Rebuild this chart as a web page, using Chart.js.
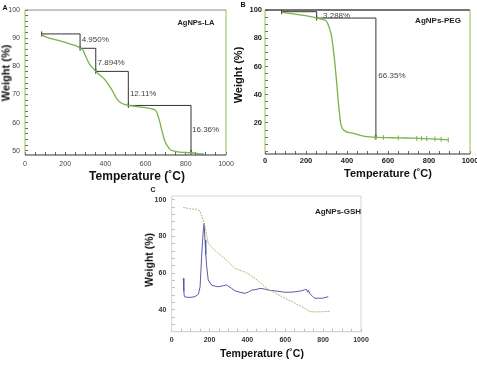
<!doctype html>
<html lang="en">
<head>
<meta charset="utf-8" />
<script src="https://cdn.jsdelivr.net/npm/chart.js@4.4.1/dist/chart.umd.min.js"></script>
<style>
  html, body { margin: 0; padding: 0; width: 477px; height: 365px; background: #fff; overflow: hidden;
    font-family: 'Liberation Sans', Arial, sans-serif; }
  canvas { position: absolute; }
  .txt { position: absolute; white-space: nowrap; transform: translate(-50%, -50%); color: #111;
    font-weight: bold; line-height: 1; }
  .rot { transform: translate(-50%, -50%) rotate(-90deg); }
</style>
</head>
<body>
<canvas id="chartA" width="237" height="183" style="left:0px;top:0px;width:237px;height:183px"></canvas>
<canvas id="chartB" width="248" height="183" style="left:229px;top:0px;width:248px;height:183px"></canvas>
<canvas id="chartC" width="240" height="182" style="left:130px;top:183px;width:240px;height:182px"></canvas>

<div class="txt" style="left:5px;top:7px;font-size:7px">A</div>
<div class="txt" style="left:243px;top:4px;font-size:7px">B</div>
<div class="txt" style="left:153px;top:189px;font-size:7px">C</div>

<div class="txt rot" style="left:5.5px;top:73px;font-size:11px">Weight (%)</div>
<div class="txt" style="left:137px;top:176px;font-size:12px">Temperature (˚C)</div>
<div class="txt rot" style="left:238px;top:75px;font-size:11px">Weight (%)</div>
<div class="txt" style="left:388px;top:173px;font-size:11px">Temperature (˚C)</div>
<div class="txt rot" style="left:149px;top:260px;font-size:10.5px">Weight (%)</div>
<div class="txt" style="left:262px;top:353px;font-size:10.5px">Temperature (˚C)</div>

<div class="txt" style="left:196px;top:23px;font-size:7.5px;color:#222">AgNPs-LA</div>
<div class="txt" style="left:438px;top:21px;font-size:8px;color:#222">AgNPs-PEG</div>
<div class="txt" style="left:338px;top:212px;font-size:8px;color:#222">AgNPs-GSH</div>

<script>
// ---- panel A: AgNPs-LA ----
const tempsA = [83, 120, 160, 191, 230, 257, 277, 290, 299, 312, 323, 343, 352, 365, 390, 406, 422, 439, 452, 464,
  480, 500, 514, 540, 570, 600, 630, 647, 656, 663, 672, 680, 690, 697, 710, 721, 745, 771, 800, 829, 860, 890];
const weightsA = [91.1, 90.0, 89.3, 88.7, 87.8, 87.2, 86.4, 85.6, 84.0, 82.0, 80.5, 79.0, 78.2, 77.3, 75.8, 74.5, 72.8,
  70.8, 69.0, 67.8, 66.9, 66.4, 66.1, 65.9, 65.6, 65.3, 64.9, 64.5, 63.6, 62.1, 59.9, 57.4, 54.8, 53.2, 51.6, 50.5,
  49.9, 49.5, 49.4, 49.3, 49.0, 48.8];
const stepTempsA = [83, 274, 352, 514, 826];
const stepWeightsA = [91.5, 86.4, 78.2, 66.1, 49.5];
const lossLabelsA = ['4.950%', '7.894%', '12.11%', '16.36%'];
const lossLabelXA = [282, 361, 522, 831];
const lossLabelYA = [89.3, 81.3, 70.1, 57.6];
const yLabelsA = [50, 60, 70, 80, 90, 100];

// ---- panel B: AgNPs-PEG ----
const tempsB = [81, 120, 171, 210, 249, 275, 293, 303, 309, 317, 325, 333, 341, 350, 358, 364, 369, 375, 382, 395,
  412, 431, 460, 496, 541, 600, 659, 720, 780, 840, 894];
const weightsB = [98.4, 97.6, 96.5, 95.6, 94.5, 93.6, 92.7, 91.3, 89.4, 85.8, 81.1, 72.5, 62, 48, 34, 26, 19.8, 16.8,
  15.2, 13.9, 13.2, 12.6, 11.4, 10.3, 9.8, 9.6, 9.4, 9.2, 8.9, 8.5, 8.0];
const markTempsB = [537, 577, 650, 740, 764, 789, 829, 859, 894];
const markWeightsB = [9.8, 9.7, 9.4, 9.1, 9.0, 8.9, 8.7, 8.4, 8.0];
const stepTempsB = [81, 252, 541];
const stepWeightsB = [98.8, 94.3, 9.9];
const lossLabelsB = ['3.288%', '66.35%'];
const lossLabelXB = [283, 553];
const lossLabelYB = [96.1, 53.3];
const yLabelsB = [20, 40, 60, 80, 100];

// ---- panel C: AgNPs-GSH ----
const tempsC1 = [61, 100, 132, 150, 158, 167, 176, 185, 193, 210, 246, 273, 300, 334, 360, 387, 405, 440, 470, 493,
  506, 550, 599, 640, 687, 710, 731, 760, 800, 836];
const weightsC1 = [95.8, 95.0, 94.7, 93.8, 91.0, 88.6, 85.3, 80.5, 76.2, 74.2, 70.7, 68.4, 66.0, 62.6, 61.5, 60.5,
  59.4, 57.1, 54.6, 52.5, 51.4, 48.9, 46.2, 44.1, 41.6, 40.3, 38.9, 38.8, 38.9, 39.1];
const tempsC2 = [61, 64, 67, 80, 97, 123, 141, 150, 158, 163, 167, 171, 176, 180, 185, 193, 211, 230, 246, 273, 290,
  317, 334, 360, 387, 405, 423, 445, 466, 490, 510, 550, 599, 640, 687, 700, 713, 718, 723, 731, 745, 757, 775, 792,
  810, 827];
const weightsC2 = [57.1, 50, 47.1, 46.8, 46.7, 47.1, 48.5, 52.5, 68.9, 77, 83.4, 87.1, 78, 70, 63.4, 56.2, 53.4,
  52.8, 52.5, 53.1, 53.5, 51.6, 50.3, 49.5, 48.9, 49.6, 50.7, 51.0, 51.6, 51.3, 50.7, 50.2, 49.5, 49.6, 50.3, 50.8,
  51.1, 49.5, 50.5, 48.5, 47.2, 46.2, 46.3, 46.2, 46.6, 47.1];
const yLabelsC = [40, 60, 80, 100];

const xLabels = [0, 200, 400, 600, 800, 1000];

Chart.defaults.font.family = "'Liberation Sans', Arial, sans-serif";
Chart.defaults.animation = false;

const green = '#78b446';
const pts = (xs, ys) => xs.map((x, i) => ({ x, y: ys[i] }));

// minor tick positions between min and max
function tickRange(min, max, step) {
  const out = [];
  for (let v = Math.ceil(min / step) * step; v <= max + 1e-9; v += step) out.push(Math.round(v * 100) / 100);
  return out;
}

// plot frame, one colour per side
const framePlugin = {
  id: 'frame',
  afterDatasetsDraw(chart, args, o) {
    const { ctx, chartArea: a } = chart;
    const line = (x1, y1, x2, y2, c, w) => {
      ctx.beginPath();
      ctx.strokeStyle = c;
      ctx.lineWidth = w;
      ctx.moveTo(x1, y1);
      ctx.lineTo(x2, y2);
      ctx.stroke();
    };
    ctx.save();
    line(a.left, a.top, a.right, a.top, o.top, o.topWidth || 1);
    line(a.right, a.top, a.right, a.bottom, o.right, 1);
    line(a.left, a.top, a.left, a.bottom, o.left, 1);
    line(a.left, a.bottom, a.right, a.bottom, o.bottom, 1.2);
    ctx.restore();
  }
};

// mass-loss percentages next to the step lines
const noteText = {
  id: 'noteText',
  afterDatasetsDraw(chart, args, o) {
    if (!o.texts) return;
    const { ctx, scales: { x, y } } = chart;
    ctx.save();
    ctx.font = o.font;
    ctx.fillStyle = o.color;
    ctx.textAlign = 'left';
    ctx.textBaseline = 'middle';
    o.texts.forEach((t, i) => ctx.fillText(t, x.getPixelForValue(o.xs[i]), y.getPixelForValue(o.ys[i])));
    ctx.restore();
  }
};

function xScale(h, pad, font, color, tickColor) {
  return {
    type: 'linear', min: 0, max: 1000,
    afterFit: s => { s.height = h; s.paddingLeft = 0; s.paddingRight = 0; },
    afterBuildTicks: s => { s.ticks = tickRange(0, 1000, 50).map(v => ({ value: v })); },
    border: { display: false },
    grid: { drawOnChartArea: false, tickLength: -3, color: tickColor },
    ticks: { autoSkip: false, maxRotation: 0, padding: pad, color, font,
      callback: v => (xLabels.includes(v) ? v : '') }
  };
}

function yScale(min, max, step, labels, w, pad, font, color, tickColor) {
  return {
    min, max,
    afterFit: s => { s.width = w; s.paddingTop = 0; s.paddingBottom = 0; },
    afterBuildTicks: s => { s.ticks = tickRange(min, max, step).map(v => ({ value: v })); },
    border: { display: false },
    grid: { drawOnChartArea: false, tickLength: -3, color: tickColor },
    ticks: { autoSkip: false, padding: pad, color, font,
      callback: v => (labels.includes(v) ? v : '') }
  };
}

const stepStyle = {
  stepped: true, borderColor: '#333', borderWidth: 1, pointStyle: 'line', pointRotation: 90,
  pointRadius: 2.5, pointBorderColor: '#333', pointBorderWidth: 1
};

new Chart(document.getElementById('chartA'), {
  type: 'line',
  data: {
    datasets: [
      { data: pts(tempsA, weightsA), borderColor: green, borderWidth: 1.3, pointRadius: 0, cubicInterpolationMode: 'monotone' },
      Object.assign({ data: pts(stepTempsA, stepWeightsA) }, stepStyle)
    ]
  },
  options: {
    responsive: false,
    layout: { padding: { left: 0, top: 10, right: 11, bottom: 0 } },
    plugins: {
      legend: { display: false }, tooltip: { enabled: false },
      frame: { top: '#8a8a8a', right: '#8dc25a', left: '#8dc25a', bottom: '#333' },
      noteText: { texts: lossLabelsA, xs: lossLabelXA, ys: lossLabelYA, font: '8px Liberation Sans, Arial', color: '#444' }
    },
    scales: {
      x: xScale(28, 7.5, { size: 7 }, '#444', '#666'),
      y: yScale(48.5, 100, 2, yLabelsA, 25, 8, { size: 7 }, '#444', '#666')
    }
  },
  plugins: [framePlugin, noteText]
});

new Chart(document.getElementById('chartB'), {
  type: 'line',
  data: {
    datasets: [
      { data: pts(tempsB, weightsB), borderColor: green, borderWidth: 1.3, pointRadius: 0, cubicInterpolationMode: 'monotone' },
      { data: pts(markTempsB, markWeightsB), showLine: false, pointStyle: 'line', pointRotation: 90, pointRadius: 2.5,
        pointBorderColor: green, pointBorderWidth: 1 },
      Object.assign({ data: pts(stepTempsB, stepWeightsB) }, stepStyle)
    ]
  },
  options: {
    responsive: false,
    layout: { padding: { left: 0, top: 10, right: 7, bottom: 0 } },
    plugins: {
      legend: { display: false }, tooltip: { enabled: false },
      frame: { top: '#444', topWidth: 1.6, right: '#8dc25a', left: '#8dc25a', bottom: '#333' },
      noteText: { texts: lossLabelsB, xs: lossLabelXB, ys: lossLabelYB, font: '8px Liberation Sans, Arial', color: '#444' }
    },
    scales: {
      x: xScale(29, 5.5, { size: 7.5, weight: 'bold' }, '#222', '#666'),
      y: yScale(-2, 100, 5, yLabelsB, 36, 6, { size: 7.5, weight: 'bold' }, '#222', '#666')
    }
  },
  plugins: [framePlugin, noteText]
});

new Chart(document.getElementById('chartC'), {
  type: 'line',
  data: {
    datasets: [
      { data: pts(tempsC1, weightsC1), borderColor: '#b0b872', borderWidth: 1, borderDash: [2, 1], pointRadius: 0 },
      { data: pts(tempsC2, weightsC2), borderColor: '#5a5aaa', borderWidth: 1, pointRadius: 0 }
    ]
  },
  options: {
    responsive: false,
    layout: { padding: { left: 0, top: 13, right: 9, bottom: 0 } },
    plugins: {
      legend: { display: false }, tooltip: { enabled: false },
      frame: { top: '#d4d4d4', right: '#d4d4d4', left: '#d4d4d4', bottom: '#d4d4d4' }
    },
    scales: {
      x: xScale(33.3, 7, { size: 7, weight: 'bold' }, '#333', '#bbb'),
      y: yScale(28, 102, 4, yLabelsC, 41.7, 8.4, { size: 7, weight: 'bold' }, '#333', '#bbb')
    }
  },
  plugins: [framePlugin]
});
</script>
</body>
</html>
